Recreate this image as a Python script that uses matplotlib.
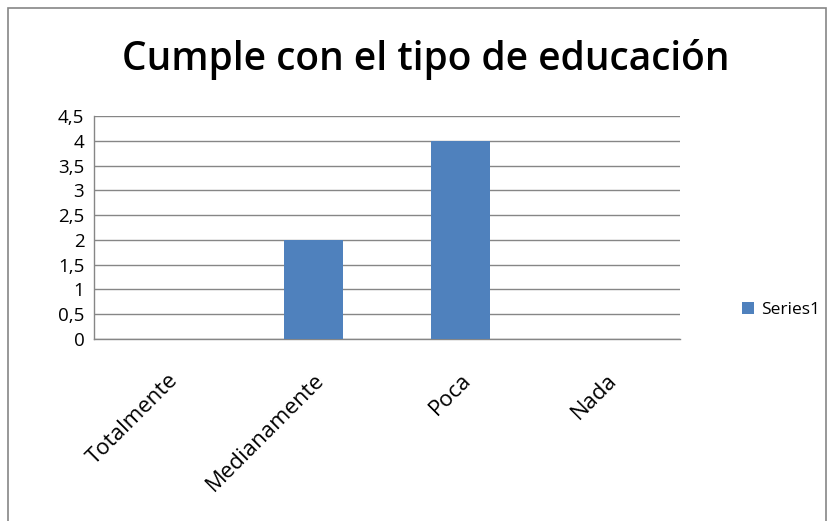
import matplotlib
matplotlib.use("Agg")
import matplotlib.pyplot as plt
from matplotlib.patches import Rectangle

categories = ["Totalmente", "Medianamente", "Poca", "Nada"]
values = [0, 2, 4, 0]
yticks = [0, 0.5, 1, 1.5, 2, 2.5, 3, 3.5, 4, 4.5]
ytick_labels = ["0", "0,5", "1", "1,5", "2", "2,5", "3", "3,5", "4", "4,5"]
series_name = "Series1"
title = "Cumple con el tipo de educación"

plt.rcParams['font.family'] = ['Open Sans', 'DejaVu Sans']

fig = plt.figure(figsize=(8.28, 5.21), dpi=100)
fig.patches.append(Rectangle((8/828, -0.1), (828-8)/828 - 2/828, 1.1 - 8/521,
                             transform=fig.transFigure, fill=False,
                             edgecolor="#868686", linewidth=1.2))

ax = fig.add_axes([94/828, 1 - 339/521, (680-94)/828, (339-116)/521])
x = range(len(categories))
bars = ax.bar(x, values, width=0.4, color="#4F81BD", label=series_name, zorder=3)
ax.set_xlim(-0.5, len(categories) - 0.5)
ax.set_ylim(0, 4.5)
ax.set_yticks(yticks)
ax.set_yticklabels(ytick_labels, fontsize=13.5)
ax.set_xticks(list(x))
ax.set_xticklabels(categories, rotation=45, ha="right", rotation_mode="anchor", fontsize=16)
ax.tick_params(axis="y", length=0, pad=7)
ax.tick_params(axis="x", length=0, pad=22)
ax.grid(axis="y", color="#868686", linewidth=1, zorder=0)
for s in ["top", "right"]:
    ax.spines[s].set_visible(False)
for s in ["left", "bottom"]:
    ax.spines[s].set_color("#868686")
    ax.spines[s].set_linewidth(1)

fig.text(426/828, 1 - 60/521, title, ha="center", va="center", fontsize=28, fontweight="semibold")

leg = ax.legend(loc="center left", bbox_to_anchor=(726/828, 1 - 310/521), bbox_transform=fig.transFigure,
                frameon=False, fontsize=12.5, handlelength=0.7, handleheight=0.7, handletextpad=0.4)

fig.savefig("out.png", dpi=100)
